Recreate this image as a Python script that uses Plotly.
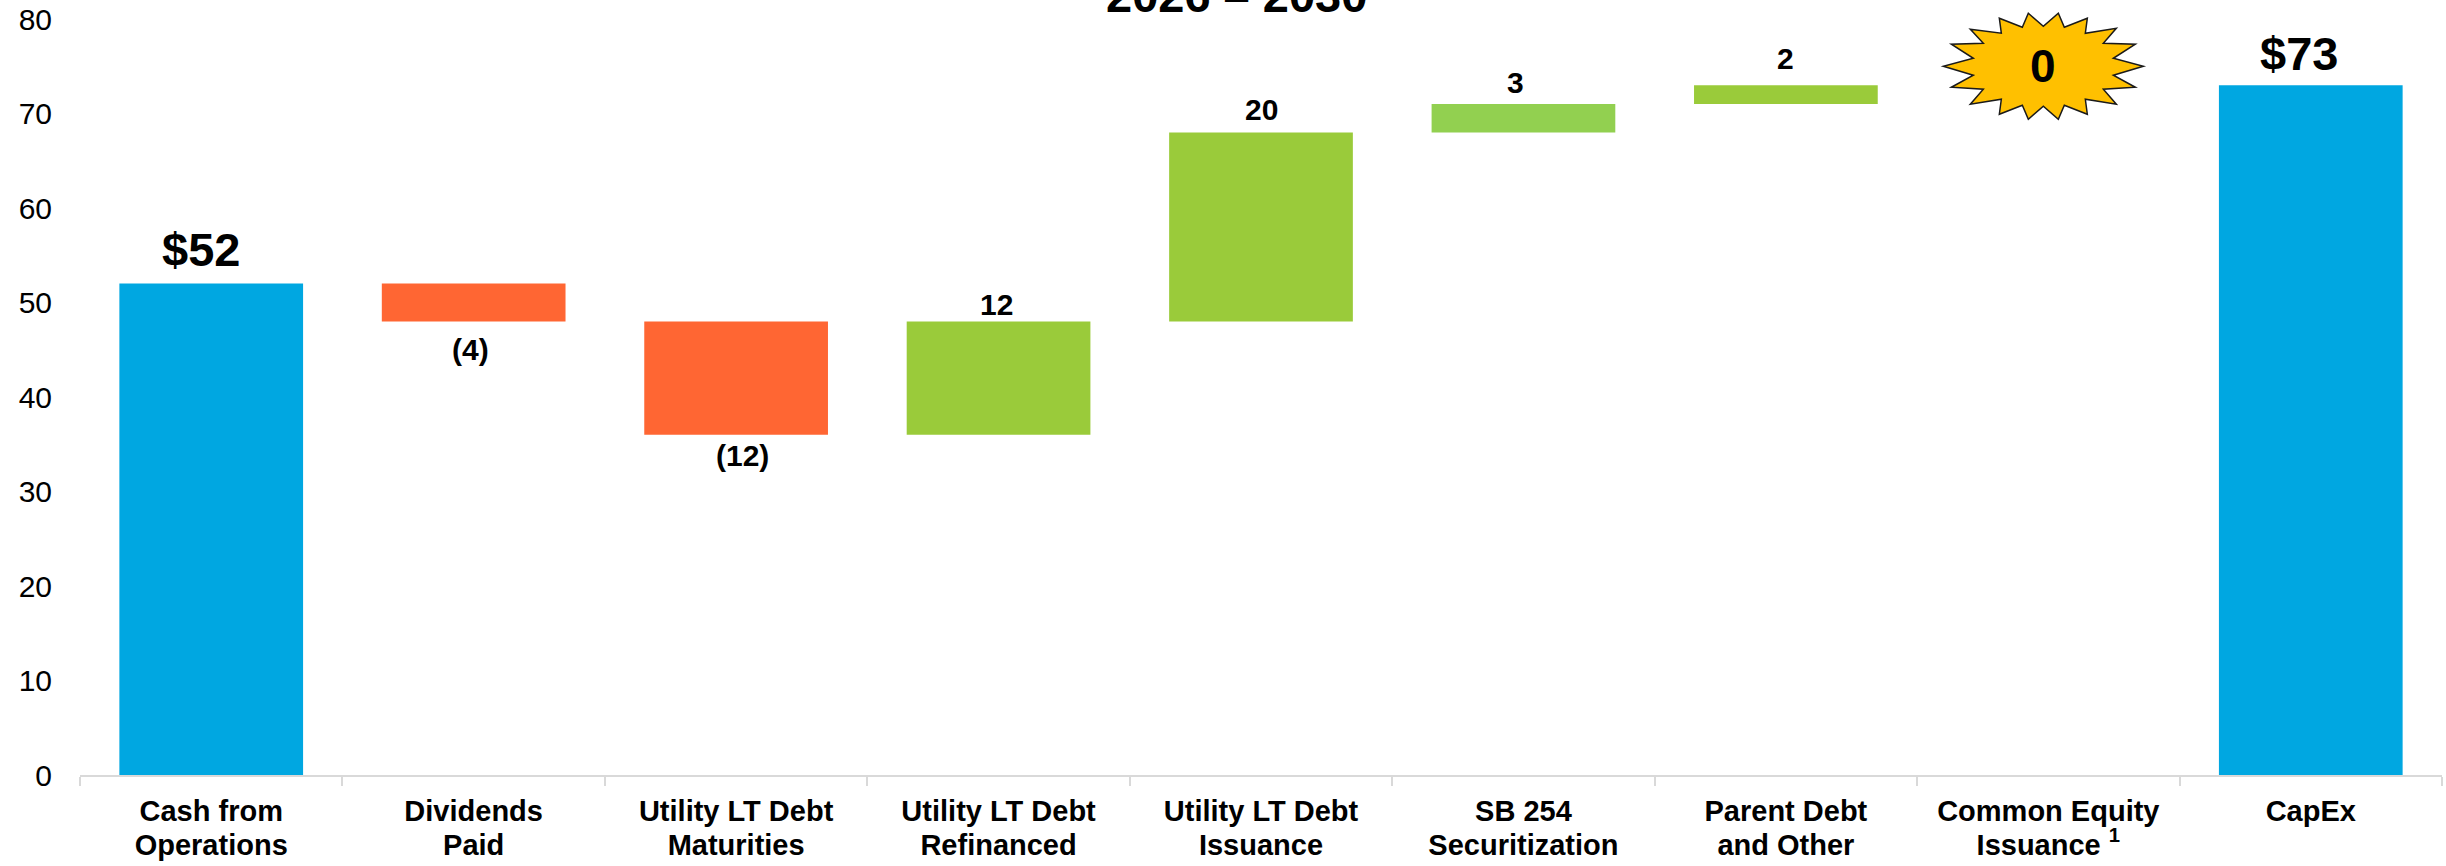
import plotly.graph_objects as go

categories = [["Cash from", "Operations"], ["Dividends", "Paid"], ["Utility LT Debt", "Maturities"],
              ["Utility LT Debt", "Refinanced"], ["Utility LT Debt", "Issuance"], ["SB 254", "Securitization"],
              ["Parent Debt", "and Other"], ["Common Equity", "Issuance <sup>1</sup>"], ["CapEx"]]
bases = [0, 48, 36, 36, 48, 68, 71, 73, 0]
heights = [52, 4, 12, 12, 20, 3, 2, 0, 73]
labels = ["$52", "(4)", "(12)", "12", "20", "3", "2", "", "$73"]
label_y = [52, 48, 36, 48, 68, 71, 73, None, 73]
title = "2026 – 2030"
burst_value = 0
burst_y = 75
y_max = 80

colors = ["#00A7E1", "#FF6633", "#FF6633", "#9ACB3A", "#9ACB3A", "#92D050", "#9ACB3A", "#FFC000", "#00A7E1"]
label_size = [47, 30, 30, 30, 30, 30, 30, 30, 47]
label_dx = [-10, -3, 6, -2, 0, -8, 0, 0, -12]
label_dy = [34, -28.5, -21, 17, 23, 22, 27, 0, 32]

xlabels = ["<br>".join(f'<b><span style="font-size:29px">{ln}</span></b>' for ln in c) for c in categories]
fig = go.Figure()
fig.add_bar(x=xlabels, y=heights, base=bases, marker_color=colors, marker_line_width=0, width=0.7,
            hoverinfo="skip", showlegend=False)

for i, (t, y, s, dx, dy) in enumerate(zip(labels, label_y, label_size, label_dx, label_dy)):
    if t:
        fig.add_annotation(x=i, y=y, text=f"<b>{t}</b>", showarrow=False, yanchor="middle",
                           font=dict(size=s, color="black"), xshift=dx, yshift=dy)

# starburst outline, pixel offsets from its anchor
ox = [-15,15,44,73,92,100,92,73,44,15,-15,-44,-73,-92,-100,-92,-73,-44]
oy = [53,53,48,38,22,0,-21,-38,-48,-53,-53,-48,-38,-21,0,22,37,48]
ix = [0,21,42,60,70,70,60,42,21,0,-21,-42,-60,-70,-70,-60,-42,-21]
iy = [40,39,33,23,8,-9,-23,-33,-39,-40,-39,-33,-23,-9,8,23,33,39]
burst_dx = -5
d = ""
for k in range(18):
    d += ("M" if k == 0 else "L") + f"{ox[k]+burst_dx},{oy[k]} L{ix[k]+burst_dx},{iy[k]} "
d += "Z"
fig.add_shape(type="path", xref="x", yref="paper", xsizemode="pixel", ysizemode="pixel", xanchor=7,
              yanchor=burst_y / y_max, path=d, fillcolor="#FFC000", line=dict(color="#1a1a1a", width=1.5), layer="above")
fig.add_annotation(x=7, y=burst_y, text=f"<b>{burst_value}</b>", showarrow=False, xshift=burst_dx,
                   font=dict(size=46, color="black"))
fig.add_annotation(xref="paper", yref="paper", x=0.4895, y=1.0, yanchor="middle", yshift=24, text=f"<b>{title}</b>",
                   showarrow=False, font=dict(size=47, color="black"))

fig.update_layout(
    width=2446, height=866, autosize=False, paper_bgcolor="white", plot_bgcolor="white",
    margin=dict(l=80, r=4, t=19, b=91), bargap=0.3,
    font=dict(family="Liberation Sans, Arial, sans-serif", color="black"),
    xaxis=dict(type="category", categoryorder="array", categoryarray=xlabels,
               range=[-0.5, 8.5], showgrid=False, zeroline=False, showline=True, linecolor="#D9D9D9", linewidth=2,
               ticks="outside", ticklen=9, tickcolor="#D9D9D9", tickwidth=2, tickson="boundaries",
               tickfont=dict(size=25.4, color="black"), tickangle=0, automargin=False, ticklabelstandoff=14),
    yaxis=dict(range=[0, y_max], dtick=10, showgrid=False, zeroline=False, showline=False, ticks="",
               tickfont=dict(size=30, color="black"), ticklabelstandoff=27, automargin=False),
)
fig.write_html("out.html", post_script="document.body.style.margin='0';",
               config=dict(displayModeBar=False))
